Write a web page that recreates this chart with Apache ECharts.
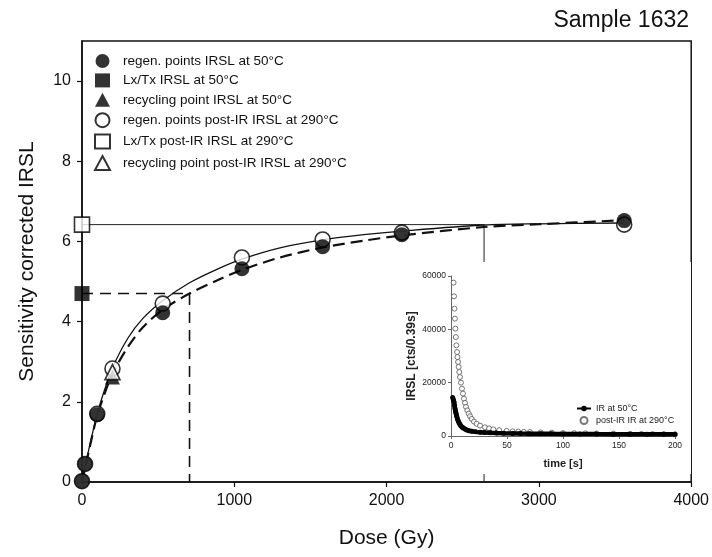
<!DOCTYPE html>
<html>
<head>
<meta charset="utf-8">
<script src="https://cdn.jsdelivr.net/npm/echarts@6/dist/echarts.min.js"></script>
<style>html,body{margin:0;padding:0;background:#fff}#c{width:712px;height:557px}</style>
</head>
<body>
<div id="c"></div>
<script>
// ---- Main chart data ----
const regenDose = [0, 20, 100, 530, 1050, 1580, 2100, 3560];
const regen50 = [0.02, 0.45, 1.68, 4.22, 5.32, 5.87, 6.17, 6.52];
const regenPIRDose = [0, 20, 100, 200, 530, 1050, 1580, 2100, 3560];
const regenPIR = [0.02, 0.45, 1.7, 2.83, 4.45, 5.6, 6.05, 6.22, 6.42];
const lxTx50 = 4.7, de50 = 706;
const lxTxPIR = 6.42, dePIR = 2640;
const recycDose = 200;
const recyc50 = 2.62, recycPIR = 2.74;
const yTicks = [0, 2, 4, 6, 8, 10];
// fitted curves
const fitDose = [0, 50, 100, 150, 200, 300, 400, 530, 706, 900, 1050, 1300, 1580, 1850, 2100, 2640, 3000, 3560];
const fitPIR = [0, 0.9, 1.7, 2.32, 2.85, 3.58, 4.08, 4.52, 4.97, 5.33, 5.56, 5.84, 6.04, 6.17, 6.26, 6.41, 6.44, 6.46];
const fit50 = [0, 0.86, 1.66, 2.22, 2.7, 3.36, 3.86, 4.3, 4.7, 5.05, 5.29, 5.6, 5.85, 6.02, 6.15, 6.36, 6.43, 6.53];
// ---- Inset data ----
const tPIR = [2.3,2.7,3.1,3.5,3.9,4.3,4.8,5.4,5.8,6.3,6.8,7.4,8.0,8.9,9.8,10.7,11.6,12.5,13.4,14.6,15.8,17.0,18.5,20.5,22.9,25.9,30.4,34,37.8,43,49.7,55,60,65,70.5,80,90,100,110,120,130,145,160,170,180,190,200];
const vPIR = [57500,52400,47750,44000,40250,37100,34000,31500,29600,27750,25900,24000,22100,20000,17750,15900,14000,12400,10900,9600,8400,7400,6400,5400,4600,3900,3250,2850,2500,2200,1900,1750,1650,1550,1500,1350,1250,1100,1050,1000,950,900,820,780,720,680,625];
const t50 = [1.5,2.1,2.7,3.2,3.6,4.1,4.5,5.1,5.7,6.4,7.1,8.0,8.9,10,11,12.5,14,16,18.5,22,26,30,35,40.8,47,55,62,70,80,90,100,115,130,145,160,175,190,200];
const v50 = [14400,13600,12750,11400,10250,9300,8400,7400,6500,5700,5000,4300,3750,3300,3000,2600,2250,1950,1750,1550,1400,1300,1200,1100,1000,950,900,875,840,800,780,750,720,700,680,660,640,625];

const F = 'Liberation Sans, Arial, sans-serif';
const zip = (a, b) => a.map((x, i) => [x, b[i]]);

const chart = echarts.init(document.getElementById('c'));
chart.setOption({
  animation: false,
  backgroundColor: '#fff',
  textStyle: { fontFamily: F },
  title: {
    text: 'Sample 1632', right: 18, top: 4,
    textStyle: { fontFamily: F, fontSize: 23, fontWeight: 'normal', color: '#111' }
  },
  legend: [{
    orient: 'vertical', left: 89, top: 49, itemGap: 5.4, itemWidth: 15, itemHeight: 14,
    textStyle: { fontFamily: F, fontSize: 13.5, color: '#111', padding: [0, 0, 0, 8] },
    data: [
      { name: 'regen. points IRSL at 50°C', icon: 'circle' },
      { name: 'Lx/Tx IRSL at 50°C', icon: 'rect' },
      { name: 'recycling point IRSL at 50°C', icon: 'triangle' },
      { name: 'regen. points post-IR IRSL at 290°C', icon: 'circle' },
      { name: 'Lx/Tx post-IR IRSL at 290°C', icon: 'rect' },
      { name: 'recycling point post-IR IRSL at 290°C', icon: 'triangle' }
    ]
  }, {
    orient: 'vertical', left: 571, top: 399, itemGap: 3, itemWidth: 14, itemHeight: 7, z: 60,
    textStyle: { fontFamily: F, fontSize: 9, color: '#222' },
    data: ['IR at 50°C', 'post-IR IR at 290°C']
  }],
  graphic: {
    z: 50,
    elements: [{
      type: 'rect', z: 50, silent: true,
      shape: { x: 388, y: 262, width: 303, height: 212 },
      style: { fill: '#fff' }
    }]
  },
  grid: [
    { left: 82, top: 41, right: 18, bottom: 75, show: true, borderColor: '#111', borderWidth: 1.5, backgroundColor: 'transparent' },
    { left: 451, top: 276, width: 224, height: 160, z: 60 }
  ],
  xAxis: [{
    gridIndex: 0, type: 'value', min: 0, max: 4000, interval: 1000,
    name: 'Dose (Gy)', nameLocation: 'middle', nameGap: 46,
    nameTextStyle: { fontFamily: F, fontSize: 21, color: '#111' },
    axisLine: { lineStyle: { color: '#111', width: 1.5 } },
    axisTick: { inside: false, length: 5, lineStyle: { color: '#111', width: 1.2 } },
    axisLabel: { fontFamily: F, fontSize: 16, color: '#111', margin: 11, formatter: v => String(v) },
    splitLine: { show: false }
  }, {
    gridIndex: 1, type: 'value', min: 0, max: 200, interval: 50, z: 60,
    name: 'time [s]', nameLocation: 'middle', nameGap: 22,
    nameTextStyle: { fontFamily: F, fontSize: 11, fontWeight: 'bold', color: '#222' },
    axisLine: { lineStyle: { color: '#666', width: 1 } },
    axisTick: { length: 3, lineStyle: { color: '#666' } },
    axisLabel: { fontFamily: F, fontSize: 8.5, color: '#222', margin: 5, formatter: v => String(v) },
    splitLine: { show: false }
  }],
  yAxis: [{
    gridIndex: 0, type: 'value', min: 0, max: 11,
    name: 'Sensitivity corrected IRSL', nameLocation: 'middle', nameGap: 44,
    nameTextStyle: { fontFamily: F, fontSize: 21, color: '#111' },
    axisLine: { lineStyle: { color: '#111', width: 1.5 } },
    axisTick: { inside: false, length: 5, customValues: yTicks, lineStyle: { color: '#111', width: 1.2 } },
    axisLabel: { fontFamily: F, fontSize: 16, color: '#111', margin: 11, customValues: yTicks },
    splitLine: { show: false }
  }, {
    gridIndex: 1, type: 'value', min: 0, max: 60000, interval: 20000, z: 60,
    name: 'IRSL [cts/0.39s]', nameLocation: 'middle', nameGap: 33,
    nameTextStyle: { fontFamily: F, fontSize: 12, fontWeight: 'bold', color: '#222' },
    axisLine: { show: true, lineStyle: { color: '#666', width: 1 } },
    axisTick: { show: true, length: 3, lineStyle: { color: '#666' } },
    axisLabel: { fontFamily: F, fontSize: 8.5, color: '#222', margin: 5, formatter: v => String(v) },
    splitLine: { show: false }
  }],
  series: [
    // guide lines
    { type: 'line', name: 'deLines50', xAxisIndex: 0, yAxisIndex: 0, symbol: 'none', z: 2,
      data: [[0, lxTx50], [de50, lxTx50], [de50, 0]],
      lineStyle: { color: '#111', width: 1.6, type: [11, 7] } },
    { type: 'line', name: 'deLinesPIR', xAxisIndex: 0, yAxisIndex: 0, symbol: 'none', z: 2,
      data: [[0, lxTxPIR], [dePIR, lxTxPIR], [dePIR, 0]],
      lineStyle: { color: '#222', width: 1 } },
    // fitted curves
    { type: 'line', name: 'fitPIR', smooth: 0.3, symbol: 'none', z: 3,
      data: zip(fitDose, fitPIR), lineStyle: { color: '#111', width: 1.3 } },
    { type: 'line', name: 'fit50', smooth: 0.3, symbol: 'none', z: 3,
      data: zip(fitDose, fit50), lineStyle: { color: '#111', width: 2.2, type: [12, 6] } },
    // points
    { type: 'scatter', name: 'regen. points post-IR IRSL at 290°C', symbol: 'circle', symbolSize: 15, z: 4,
      data: zip(regenPIRDose, regenPIR),
      itemStyle: { color: '#fff', borderColor: '#000', borderWidth: 1.6 } },
    { type: 'scatter', name: 'regen. points IRSL at 50°C', symbol: 'circle', symbolSize: 15, z: 5,
      data: zip(regenDose, regen50), itemStyle: { color: '#000' } },
    { type: 'scatter', name: 'recycling point IRSL at 50°C', symbol: 'triangle', symbolSize: 15, z: 6,
      data: [[recycDose, recyc50]], itemStyle: { color: '#000' } },
    { type: 'scatter', name: 'recycling point post-IR IRSL at 290°C', symbol: 'triangle', symbolSize: 15, z: 7,
      data: [[recycDose, recycPIR]],
      itemStyle: { color: '#fff', borderColor: '#000', borderWidth: 1.6 } },
    { type: 'scatter', name: 'Lx/Tx IRSL at 50°C', symbol: 'rect', symbolSize: 15, z: 6,
      data: [[0, lxTx50]], itemStyle: { color: '#000' } },
    { type: 'scatter', name: 'Lx/Tx post-IR IRSL at 290°C', symbol: 'rect', symbolSize: 15, z: 6,
      data: [[0, lxTxPIR]],
      itemStyle: { color: '#fff', borderColor: '#000', borderWidth: 1.6 } },
    // inset
    { type: 'scatter', name: 'post-IR IR at 290°C', xAxisIndex: 1, yAxisIndex: 1, symbol: 'circle', symbolSize: 5, z: 61,
      data: zip(tPIR, vPIR),
      itemStyle: { color: '#fff', borderColor: '#555', borderWidth: 1 } },
    { type: 'line', name: 'IR at 50°C', xAxisIndex: 1, yAxisIndex: 1, symbol: 'circle', symbolSize: 5, showAllSymbol: true, z: 62,
      data: zip(t50, v50),
      lineStyle: { color: '#000', width: 4.5 }, itemStyle: { color: '#000' } }
  ]
});
</script>
</body>
</html>
